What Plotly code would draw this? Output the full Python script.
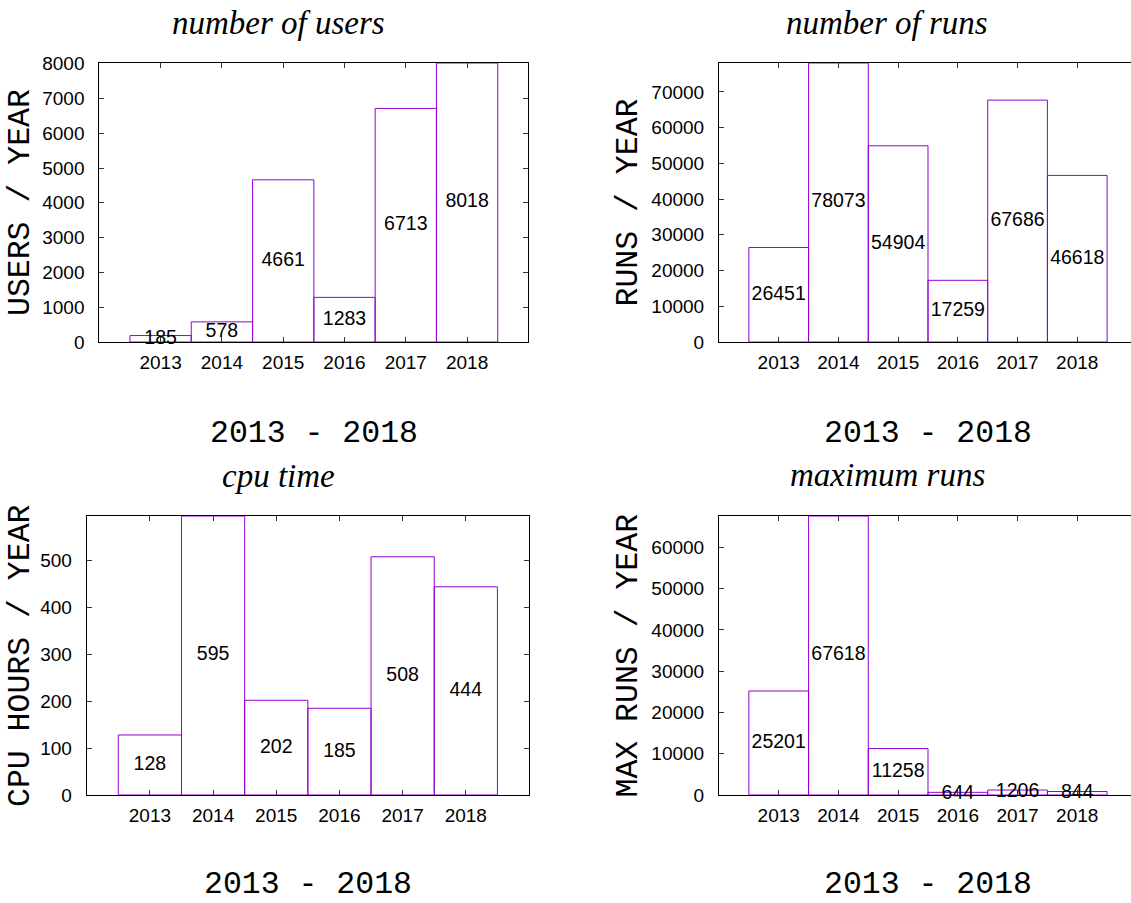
import plotly.graph_objects as go

# Yearly usage statistics, 2013 - 2018
years = [2013, 2014, 2015, 2016, 2017, 2018]
year_labels = ["2013", "2014", "2015", "2016", "2017", "2018"]

users = [185, 578, 4661, 1283, 6713, 8018]
runs = [26451, 78073, 54904, 17259, 67686, 46618]
cpu_hours = [128, 595, 202, 185, 508, 444]
max_runs = [25201, 67618, 11258, 644, 1206, 844]

titles = ["number of users", "number of runs", "cpu time", "maximum runs"]
ylabels = ["USERS / YEAR", "RUNS / YEAR", "CPU HOURS / YEAR", "MAX RUNS / YEAR"]
xlabel = "2013 - 2018"
ytick_steps = [1000, 10000, 100, 10000]

W, H = 1131, 903
BAR_COLOR = "#9400d3"
SANS = "Liberation Sans"
MONO = "Liberation Mono"
SERIF = "Liberation Serif"


def fx(px):
    return px / W


def fy(py):
    return 1 - py / H


# plot-area boxes in pixels: (left, right, top, bottom)
boxes = [
    (99.3, 528.4, 63, 342),
    (719, 1131, 63, 342),
    (86.7, 529, 516, 795),
    (719, 1131, 516, 795),
]
x_ranges = [[2012, 2019], [2012, 2018.9], [2012, 2019], [2012, 2018.9]]
right_open = [False, True, False, True]

title_pos = [(278, 23), (887, 23), (278, 476), (887, 475)]
ylabel_x = [20.5, 628, 20.5, 628]
xlabel_y = [433, 433, 884.5, 884.5]

series = [users, runs, cpu_hours, max_runs]

fig = go.Figure()
layout = dict(
    width=W,
    height=H,
    margin=dict(l=0, r=0, t=0, b=0, autoexpand=False),
    paper_bgcolor="white",
    plot_bgcolor="white",
    showlegend=False,
    annotations=[],
)

for i, vals in enumerate(series):
    n = "" if i == 0 else str(i + 1)
    xa, ya = "x" + n, "y" + n
    left, right, top, bottom = boxes[i]

    fig.add_trace(go.Bar(
        x=years, y=vals, width=1,
        marker=dict(color="rgba(255,255,255,0)",
                    line=dict(color=BAR_COLOR, width=1)),
        xaxis=xa, yaxis=ya, hoverinfo="skip",
    ))
    fig.add_trace(go.Scatter(
        x=years, y=[v / 2 for v in vals], mode="text",
        text=[str(v) for v in vals],
        textfont=dict(family=SANS, size=19.5, color="black"),
        textposition="middle center",
        cliponaxis=False, xaxis=xa, yaxis=ya, hoverinfo="skip",
    ))

    layout["xaxis" + n] = dict(
        domain=[fx(left), fx(right)], anchor=ya,
        range=x_ranges[i], automargin=False,
        tickmode="array", tickvals=years, ticktext=year_labels,
        showline=True, linecolor="black", linewidth=1, mirror="ticks",
        ticks="inside", ticklen=5, tickwidth=1, tickcolor="#333",
        ticklabelstandoff=3,
        showgrid=False, zeroline=False, layer="below traces",
        tickfont=dict(family=SANS, size=19, color="black"),
    )
    layout["yaxis" + n] = dict(
        domain=[fy(bottom), fy(top)], anchor=xa,
        range=[0, max(vals)], automargin=False,
        tick0=0, dtick=ytick_steps[i], tickformat="d",
        showline=True, linecolor="black", linewidth=1,
        mirror=False if right_open[i] else "ticks",
        ticks="inside", ticklen=5, tickwidth=1, tickcolor="#333",
        ticklabelstandoff=10,
        showgrid=False, zeroline=False, layer="below traces",
        tickfont=dict(family=SANS, size=19, color="black"),
    )

    tx, ty = title_pos[i]
    layout["annotations"].append(dict(
        text=titles[i], x=fx(tx), y=fy(ty), xref="paper", yref="paper",
        xanchor="center", yanchor="middle", showarrow=False,
        font=dict(family=SERIF, size=33, color="black", style="italic"),
    ))
    layout["annotations"].append(dict(
        text=ylabels[i], x=fx(ylabel_x[i]), y=fy((top + bottom) / 2),
        xref="paper", yref="paper", textangle=-90,
        xanchor="center", yanchor="middle", showarrow=False,
        font=dict(family=MONO, size=31.5, color="black"),
    ))
    unit = (right - left) / (x_ranges[i][1] - x_ranges[i][0])
    cx = left + 3.5 * unit
    layout["annotations"].append(dict(
        text=xlabel, x=fx(cx), y=fy(xlabel_y[i]), xref="paper", yref="paper",
        xanchor="center", yanchor="middle", showarrow=False,
        font=dict(family=MONO, size=31.5, color="black"),
    ))

fig.update_layout(**layout)
fig.write_html("out.html")
